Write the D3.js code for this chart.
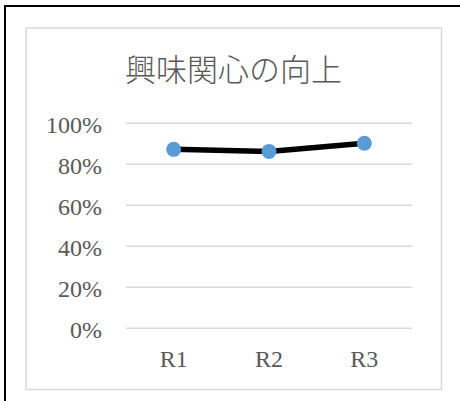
<!DOCTYPE html>
<html>
<head>
<meta charset="utf-8">
<style>
  body { margin: 0; background: #fff; }
  svg { display: block; }
</style>
</head>
<body>
<div class="start"></div>
<script src="https://cdn.jsdelivr.net/npm/d3@7/dist/d3.min.js"></script>
<script>
var title = "興味関心の向上";
var categories = ["R1", "R2", "R3"];
var values = [0.87, 0.86, 0.90];
var yTicks = [0, 0.2, 0.4, 0.6, 0.8, 1.0];

var W = 460, H = 401;
var plot = { left: 126, right: 412, top: 122.7, bottom: 327.7 };

var svg = d3.select('.start')
  .append('svg')
  .attr('width', W)
  .attr('height', H);

// outer frame (cropped at right and bottom)
svg.append('rect')
  .attr('x', 5).attr('y', 6)
  .attr('width', 520).attr('height', 520)
  .attr('fill', 'none')
  .attr('stroke', '#000')
  .attr('stroke-width', 2);

// chart area border
svg.append('rect')
  .attr('x', 26).attr('y', 28)
  .attr('width', 415.5).attr('height', 361.5)
  .attr('fill', '#fff')
  .attr('stroke', '#d9d9d9')
  .attr('stroke-width', 1.5);

svg.append('text')
  .attr('x', 233.5)
  .attr('y', 81)
  .attr('text-anchor', 'middle')
  .attr('fill', '#595959')
  .style('font-family', '"Noto Sans CJK JP", sans-serif')
  .style('font-weight', 300)
  .style('font-size', '31px')
  .text(title);

var x = d3.scaleBand()
  .domain(categories)
  .range([plot.left, plot.right]);

var y = d3.scaleLinear()
  .domain([0, 1])
  .range([plot.bottom, plot.top]);

var yAxis = svg.append('g')
  .attr('transform', 'translate(' + plot.left + ',0)')
  .call(d3.axisLeft(y)
    .tickValues(yTicks)
    .tickFormat(d3.format('.0%'))
    .tickSize(-(plot.right - plot.left))
    .tickPadding(24));

yAxis.select('.domain').remove();
yAxis.selectAll('line')
  .attr('stroke', '#d9d9d9')
  .attr('stroke-width', 1.4);
yAxis.selectAll('text')
  .attr('fill', '#595959')
  .attr('dy', '0.4em')
  .style('font-family', '"Liberation Serif", serif')
  .style('font-size', '24px');

var xAxis = svg.append('g')
  .attr('transform', 'translate(0,' + plot.bottom + ')')
  .call(d3.axisBottom(x).tickSize(0).tickPadding(22));

xAxis.select('.domain').remove();
xAxis.selectAll('text')
  .attr('fill', '#595959')
  .style('font-family', '"Liberation Serif", serif')
  .style('font-size', '24px');

var line = d3.line()
  .x(function(d, i) { return x(categories[i]) + x.bandwidth() / 2; })
  .y(function(d) { return y(d); });

svg.append('path')
  .datum(values)
  .attr('d', line)
  .attr('fill', 'none')
  .attr('stroke', '#000')
  .attr('stroke-width', 5.5)
  .attr('stroke-linejoin', 'round');

svg.selectAll('.pt')
  .data(values)
  .enter()
  .append('circle')
  .attr('class', 'pt')
  .attr('cx', function(d, i) { return x(categories[i]) + x.bandwidth() / 2; })
  .attr('cy', function(d) { return y(d); })
  .attr('r', 7.5)
  .attr('fill', '#5b9bd5');
</script>
</body>
</html>
